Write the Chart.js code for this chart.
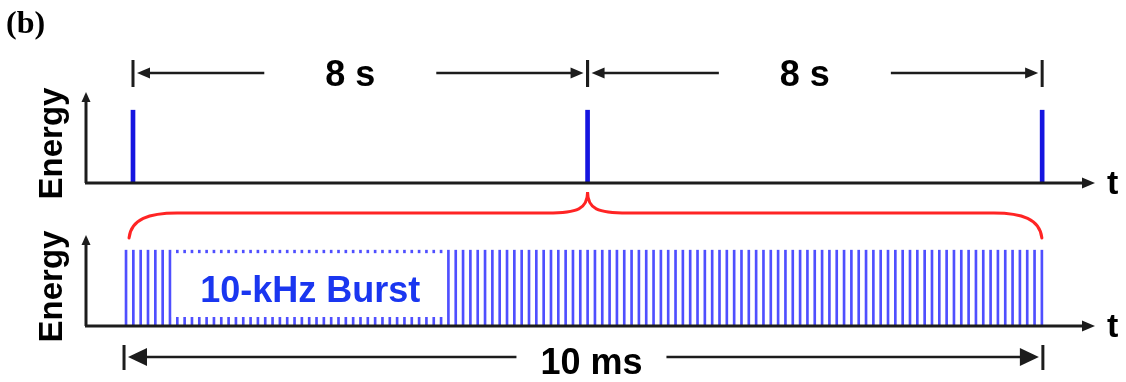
<!DOCTYPE html>
<html><head><meta charset="utf-8">
<script src="https://cdn.jsdelivr.net/npm/chart.js@4.4.0/dist/chart.umd.min.js"></script>
<style>
html,body{margin:0;padding:0;background:#fff;width:1126px;height:382px;overflow:hidden;}
#wrap{position:relative;width:1126px;height:382px;}
canvas{position:absolute;left:0;top:0;}
</style></head><body>
<div id="wrap">
<canvas id="top" width="1126" height="382"></canvas>
<canvas id="bot" width="1126" height="382"></canvas>
</div>
<script>
// ---- data ----
const panelLabel = '(b)';
const axisTitle = 'Energy';
const timeLabel = 't';
const pulseTimesS = [0, 8, 16];
const pulseEnergy = [1, 1, 1];
const intervalLabels = ['8 s', '8 s'];
const burstTimesMs = [
  0,0.08,0.16,0.24,0.32,0.4,0.48,0.56,0.64,0.72,0.8,0.88,0.96,
  1.04,1.12,1.2,1.28,1.36,1.44,1.52,1.6,1.68,1.76,1.84,1.92,2,
  2.08,2.16,2.24,2.32,2.4,2.48,2.56,2.64,2.72,2.8,2.88,2.96,
  3.04,3.12,3.2,3.28,3.36,3.44,3.52,3.6,3.68,3.76,3.84,3.92,4,
  4.08,4.16,4.24,4.32,4.4,4.48,4.56,4.64,4.72,4.8,4.88,4.96,
  5.04,5.12,5.2,5.28,5.36,5.44,5.52,5.6,5.68,5.76,5.84,5.92,6,
  6.08,6.16,6.24,6.32,6.4,6.48,6.56,6.64,6.72,6.8,6.88,6.96,
  7.04,7.12,7.2,7.28,7.36,7.44,7.52,7.6,7.68,7.76,7.84,7.92,8,
  8.08,8.16,8.24,8.32,8.4,8.48,8.56,8.64,8.72,8.8,8.88,8.96,
  9.04,9.12,9.2,9.28,9.36,9.44,9.52,9.6,9.68,9.76,9.84,9.92,10];
const burstEnergy = [
  1,1,1,1,1,1,1,1,1,1, 1,1,1,1,1,1,1,1,1,1, 1,1,1,1,1,1,1,1,1,1,
  1,1,1,1,1,1,1,1,1,1, 1,1,1,1,1,1,1,1,1,1, 1,1,1,1,1,1,1,1,1,1,
  1,1,1,1,1,1,1,1,1,1, 1,1,1,1,1,1,1,1,1,1, 1,1,1,1,1,1,1,1,1,1,
  1,1,1,1,1,1,1,1,1,1, 1,1,1,1,1,1,1,1,1,1, 1,1,1,1,1,1,1,1,1,1,
  1,1,1,1,1,1];
const burstLabel = '10-kHz Burst';
const burstBoxMs = [0.5, 3.5];
const durationMs = [0, 10];
const durationLabel = '10 ms';

// ---- helpers ----
const INK = '#1c1c1c';
const SANS = '"Liberation Sans", Arial, sans-serif';
function head(ctx, x, y, dir, len, hw) {
  ctx.beginPath();
  if (dir === 'r') { ctx.moveTo(x, y); ctx.lineTo(x - len, y - hw); ctx.lineTo(x - len, y + hw); }
  else if (dir === 'l') { ctx.moveTo(x, y); ctx.lineTo(x + len, y - hw); ctx.lineTo(x + len, y + hw); }
  else { ctx.moveTo(x, y); ctx.lineTo(x - hw, y + len); ctx.lineTo(x + hw, y + len); }
  ctx.closePath(); ctx.fill();
}
function line(ctx, x1, y1, x2, y2) { ctx.beginPath(); ctx.moveTo(x1, y1); ctx.lineTo(x2, y2); ctx.stroke(); }
function drawAxes(chart) {
  const ctx = chart.ctx, a = chart.chartArea, ys = chart.scales.y;
  const y0 = ys.getPixelForValue(0);
  ctx.save();
  ctx.strokeStyle = INK; ctx.fillStyle = INK; ctx.lineWidth = 3;
  line(ctx, a.left - 1, y0, a.right - 10, y0);
  head(ctx, a.right, y0, 'r', 13, 5.5);
  line(ctx, a.left, y0, a.left, a.top + 8);
  head(ctx, a.left, a.top, 'u', 10, 4.5);
  ctx.fillStyle = '#000';
  ctx.font = 'bold 34px ' + SANS;
  ctx.textAlign = 'left'; ctx.textBaseline = 'alphabetic';
  ctx.fillText(timeLabel, a.right + 12, y0 + 11);
  ctx.translate(62, (a.top + y0) / 2 + 6);
  ctx.rotate(-Math.PI / 2);
  ctx.textAlign = 'center';
  ctx.font = 'bold 33px ' + SANS;
  ctx.fillText(axisTitle, 0, 0);
  ctx.restore();
}
function dimension(ctx, xa, xb, y, label, offset, gap, hlen, hhw, tickUp, tickDn, font, base) {
  ctx.save();
  ctx.strokeStyle = INK; ctx.fillStyle = INK; ctx.lineWidth = 3;
  line(ctx, xa, y - tickUp, xa, y + tickDn);
  line(ctx, xb, y - tickUp, xb, y + tickDn);
  const c = (xa + xb) / 2 + offset;
  ctx.lineWidth = 2.5;
  line(ctx, xa + 4 + hlen - 2, y, c - gap, y);
  line(ctx, c + gap, y, xb - 4 - hlen + 2, y);
  head(ctx, xa + 4, y, 'l', hlen, hhw);
  head(ctx, xb - 4, y, 'r', hlen, hhw);
  ctx.fillStyle = '#000';
  ctx.font = font; ctx.textAlign = 'center'; ctx.textBaseline = 'alphabetic';
  ctx.fillText(label, c, y + base);
  ctx.restore();
}

const topDecor = {
  id: 'topDecor',
  afterDatasetsDraw(chart) {
    const ctx = chart.ctx, xs = chart.scales.x, a = chart.chartArea;
    drawAxes(chart);
    const yd = a.top - 19;
    for (let i = 0; i < intervalLabels.length; i++) {
      dimension(ctx, xs.getPixelForValue(pulseTimesS[i]), xs.getPixelForValue(pulseTimesS[i + 1]), yd,
        intervalLabels[i], -10, 86, 13, 5.5, 13, 14, 'bold 36px ' + SANS, 13);
    }
    ctx.save();
    ctx.fillStyle = '#000';
    ctx.font = 'bold 32px "Liberation Serif", "Times New Roman", serif';
    ctx.textAlign = 'left'; ctx.textBaseline = 'alphabetic';
    ctx.fillText(panelLabel, 6, 33);
    ctx.restore();
  }
};

let topChart;
const botDecor = {
  id: 'botDecor',
  afterDatasetsDraw(chart) {
    const ctx = chart.ctx, xs = chart.scales.x, ys = chart.scales.y, a = chart.chartArea;
    const bx1 = xs.getPixelForValue(burstBoxMs[0]), bx2 = xs.getPixelForValue(burstBoxMs[1]);
    const by1 = ys.getPixelForValue(1) + 3, by2 = ys.getPixelForValue(0) - 9;
    ctx.save();
    ctx.fillStyle = '#fff';
    ctx.fillRect(bx1, by1, bx2 - bx1, by2 - by1);
    ctx.fillStyle = '#1a36f0';
    ctx.font = 'bold 36px ' + SANS;
    ctx.textAlign = 'center'; ctx.textBaseline = 'alphabetic';
    ctx.fillText(burstLabel, (bx1 + bx2) / 2 + 1, by2 - 15);
    ctx.restore();
    drawAxes(chart);
    const y0 = ys.getPixelForValue(0);
    dimension(ctx, xs.getPixelForValue(durationMs[0]) - 2, xs.getPixelForValue(durationMs[1]) + 1, y0 + 31,
      durationLabel, 8, 75, 19, 9, 12, 13, 'bold 36px ' + SANS, 17);
    const L = xs.getPixelForValue(durationMs[0]) + 3, R = xs.getPixelForValue(durationMs[1]);
    const M = topChart ? topChart.scales.x.getPixelForValue(pulseTimesS[1]) : (L + R) / 2;
    const yE = a.top + 3, yH = a.top - 22, yP = a.top - 43;
    ctx.save();
    ctx.strokeStyle = '#ff2424'; ctx.lineWidth = 3; ctx.lineCap = 'round';
    ctx.beginPath();
    ctx.moveTo(L, yE);
    ctx.bezierCurveTo(L + 2, yH + 6, L + 20, yH, L + 48, yH);
    ctx.lineTo(M - 40, yH);
    ctx.bezierCurveTo(M - 10, yH, M, yH - 4, M, yP);
    ctx.bezierCurveTo(M, yH - 4, M + 10, yH, M + 40, yH);
    ctx.lineTo(R - 48, yH);
    ctx.bezierCurveTo(R - 20, yH, R - 2, yH + 6, R, yE);
    ctx.stroke();
    ctx.restore();
  }
};

Chart.defaults.animation = false;
const common = (xmin, xmax, ymax, pad) => ({
  responsive: false, maintainAspectRatio: false, devicePixelRatio: 1,
  animation: false, events: [],
  layout: { padding: pad },
  plugins: { legend: { display: false }, tooltip: { enabled: false } },
  scales: {
    x: { type: 'linear', min: xmin, max: xmax, display: false, offset: false, grid: { offset: false } },
    y: { type: 'linear', min: 0, max: ymax, display: false }
  }
});

topChart = new Chart(document.getElementById('top'), {
  type: 'bar',
  data: { datasets: [{
    data: pulseTimesS.map((t, i) => ({ x: t, y: pulseEnergy[i] })),
    backgroundColor: '#1515e0', barThickness: 4, borderWidth: 0
  }]},
  options: common(-0.827, 16.93, 1.25, { left: 86, right: 31, top: 92, bottom: 199 }),
  plugins: [topDecor]
});

new Chart(document.getElementById('bot'), {
  type: 'bar',
  data: { datasets: [{
    data: burstTimesMs.map((t, i) => ({ x: t, y: burstEnergy[i] })),
    backgroundColor: 'rgba(60,60,255,0.9)', barThickness: 2, borderWidth: 0
  }]},
  options: common(-0.437, 10.58, 1.2, { left: 86, right: 31, top: 235, bottom: 56 }),
  plugins: [botDecor]
});
</script>
</body></html>
